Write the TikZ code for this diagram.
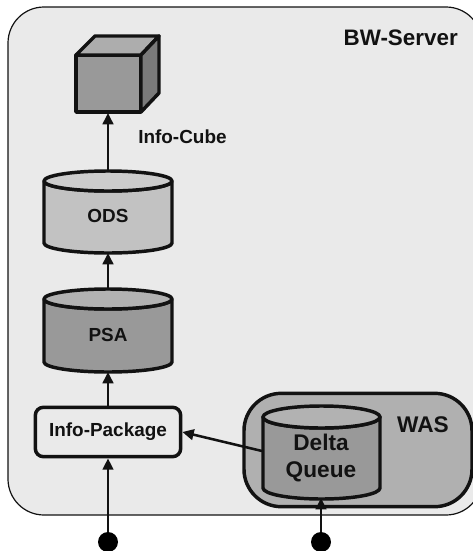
\documentclass[tikz,border=0pt]{standalone}
\usepackage{fontspec}
\setmainfont{Liberation Sans}
\usetikzlibrary{arrows.meta}
\definecolor{srv}{gray}{0.918}
\definecolor{wasc}{gray}{0.69}
\definecolor{odsc}{gray}{0.76}
\definecolor{odst}{gray}{0.80}
\definecolor{psac}{gray}{0.60}
\definecolor{psat}{gray}{0.70}
\definecolor{ink}{gray}{0.07}
\tikzset{
  x=0.75pt,y=-0.75pt,
  heavy/.style={draw=ink,line width=2.6pt,line join=round},
  conn/.style={draw=ink,line width=1.9pt,-{Triangle[length=8.5pt,width=8pt]}},
  lbl/.style={font=\bfseries\fontsize{14.2pt}{16pt}\selectfont,text=ink,inner sep=0pt},
  biglbl/.style={font=\bfseries\fontsize{17pt}{20pt}\selectfont,text=ink,inner sep=0pt,align=center},
  dot/.style={circle,fill=black,minimum size=15pt,inner sep=0pt},
}
% #1 x left, #2 x right, #3 y top centre, #4 y bottom side, #5 ry, #6 body, #7 top
\newcommand{\drum}[7]{%
  \pgfmathsetmacro{\rxx}{(#2-#1)/2}
  \path[heavy,fill=#6] (#1,#3) -- (#1,#4) arc[start angle=180,end angle=360,x radius=\rxx*0.75pt,y radius=#5*0.75pt] -- (#2,#3) arc[start angle=0,end angle=-180,x radius=\rxx*0.75pt,y radius=#5*0.75pt] -- cycle;
  \path[heavy,fill=#7] ({(#1+#2)/2},#3) ellipse[x radius=\rxx*0.75pt,y radius=#5*0.75pt];
}
\begin{document}
\begin{tikzpicture}
\useasboundingbox (0,0) rectangle (473,551);
\clip (0,0) rectangle (473,551);
\draw[draw=ink,line width=0.9pt,fill=srv,rounded corners=27pt] (8,7) rectangle (482,515);
\node[lbl,anchor=east,font=\bfseries\fontsize{16.8pt}{18pt}\selectfont] (srvl) at (458,38) {BW-Server};
% cube
\path[heavy,fill=black!40] (76,55) rectangle (141,112);
\path[heavy,fill=black!32] (76,55) -- (95,36) -- (159,36) -- (141,55) -- cycle;
\path[heavy,fill=black!52] (141,55) -- (159,36) -- (159,93) -- (141,112) -- cycle;
\coordinate (cubeb) at (108,113);
\node[lbl,anchor=west] (cubel) at (138,137) {Info-Cube};
% ODS
\drum{44}{172}{181}{243}{10}{odsc}{odst}
\node[lbl] (odsl) at (108,216) {ODS};
\coordinate (odstop) at (108,171);
\coordinate (odsbot) at (108,253);
% PSA
\drum{44}{172}{299}{362}{10}{psac}{psat}
\node[lbl] (psal) at (108,335) {PSA};
\coordinate (psatop) at (108,289);
\coordinate (psabot) at (108,372);
% Info-Package
\node[heavy,fill=srv,rounded corners=6pt,minimum width=109pt,minimum height=37pt,inner sep=0pt,font=\bfseries\fontsize{14.2pt}{16pt}\selectfont,text=ink] (ip) at (108,432) {Info-Package};
% WAS
\node[heavy,fill=wasc,rounded corners=28pt,minimum width=171pt,minimum height=85pt,inner sep=0pt] (was) at (358,450) {};
\node[biglbl,anchor=center] (wasl) at (423,425) {WAS};
% Delta queue
\drum{263}{380}{417}{488}{11}{psac}{psat}
\node[biglbl] (dq) at (321,458) {Delta\\Queue};
\coordinate (dqleft) at (262,451);
\coordinate (dqbot) at (321,498);
% dots
\node[dot] (d1) at (108,542) {};
\node[dot] (d2) at (321,542) {};
% connectors
\draw[conn] (odstop) -- (cubeb);
\draw[conn] (psatop) -- (odsbot);
\draw[conn] (ip.north) -- (psabot);
\draw[conn] (d1) -- (ip.south);
\draw[conn] (d2) -- (dqbot);
\draw[conn] (dqleft) -- (ip.east);
\end{tikzpicture}
\end{document}
